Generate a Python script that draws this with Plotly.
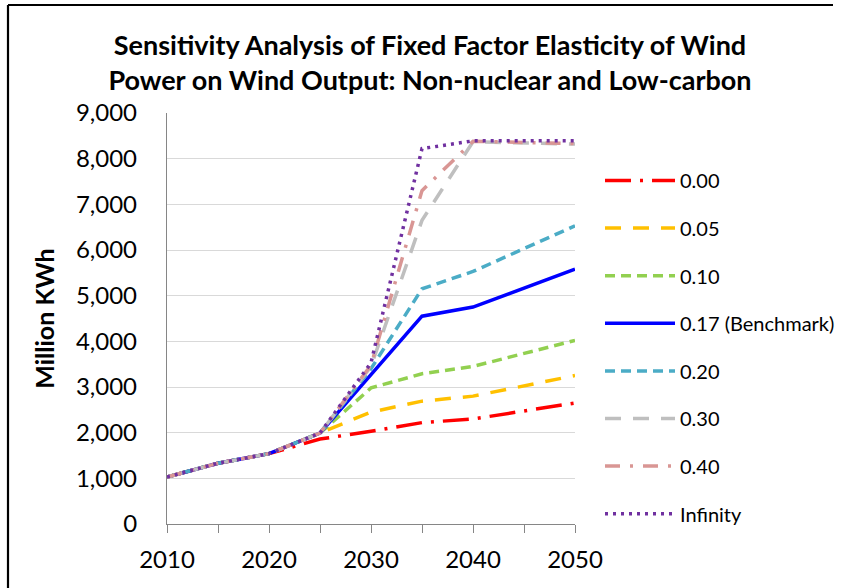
import plotly.graph_objects as go

# Projection years and wind output (million kWh) for each fixed-factor elasticity
years = [2010, 2015, 2020, 2025, 2030, 2035, 2040, 2050]

elasticity_labels = ["0.00", "0.05", "0.10", "0.17 (Benchmark)", "0.20", "0.30", "0.40", "Infinity"]

out_000 = [1030, 1330, 1540, 1860, 2030, 2220, 2300, 2650]
out_005 = [1030, 1330, 1540, 1990, 2450, 2690, 2800, 3250]
out_010 = [1030, 1330, 1540, 1990, 2980, 3290, 3450, 4020]
out_017 = [1030, 1330, 1540, 1990, 3270, 4550, 4750, 5580]
out_020 = [1030, 1330, 1540, 1990, 3400, 5150, 5530, 6530]
out_030 = [1030, 1330, 1540, 1990, 3450, 6650, 8370, 8320]
out_040 = [1030, 1330, 1540, 1990, 3480, 7300, 8380, 8330]
out_inf = [1030, 1330, 1540, 1990, 3530, 8220, 8390, 8390]

series = [out_000, out_005, out_010, out_017, out_020, out_030, out_040, out_inf]

colors = ["#FF0000", "#FFC000", "#92D050", "#0000FF", "#4BACC6", "#BFBFBF", "#D99694", "#7030A0"]
dashes = [
    "26px,9px,3px,9px",
    "16px,12px",
    "10px,6px",
    "solid",
    "10px,6px",
    "16px,12px",
    "15px,10px,3px,10px",
    "3px,5px",
]

FONT = "Lato"

fig = go.Figure()
for i, (name, vals) in enumerate(zip(elasticity_labels, series)):
    fig.add_trace(go.Scatter(
        x=years, y=vals, mode="lines", name=name,
        legendgroup=f"g{i}",
        line=dict(color=colors[i], width=3.5, dash=dashes[i]),
    ))

# Axis positions in pixels (used for the frame lines around the chart)
L, R, T, B = 167, 575, 113, 524
W, H = 841, 588
pw, ph = R - L, B - T

def px_x(p):
    return (p - L) / pw

def px_y(p):
    return (B - p) / ph

fig.update_layout(
    width=W, height=H,
    margin=dict(l=L, r=W - R, t=T, b=H - B, pad=0, autoexpand=False),
    paper_bgcolor="white", plot_bgcolor="white",
    font=dict(family=FONT, color="black"),
    title=dict(
        text="Sensitivity Analysis of Fixed Factor Elasticity of Wind<br>Power on Wind Output: Non-nuclear and Low-carbon",
        x=430 / W, xanchor="center", y=1 - 55 / H, yanchor="top",
        font=dict(family=FONT, size=27, color="black", weight="bold"),
    ),
    showlegend=True,
    legend=dict(
        x=px_x(600), xanchor="left", y=px_y(161), yanchor="top",
        font=dict(family=FONT, size=20, color="black"),
        itemwidth=70, tracegroupgap=18.6, bgcolor="rgba(0,0,0,0)",
    ),
    xaxis=dict(
        range=[2010, 2050], dtick=10, tick0=2010,
        showgrid=False, zeroline=False,
        showline=True, linecolor="#868686", linewidth=1.3,
        ticks="outside", ticklen=8, tickcolor="#868686", tickwidth=1.3,
        minor=dict(dtick=5, ticks="outside", ticklen=8, tickcolor="#868686", tickwidth=1.3, showgrid=False),
        tickfont=dict(family=FONT, size=24, color="black"),
        ticklabelstandoff=6,
    ),
    yaxis=dict(
        range=[0, 9000], dtick=1000, tickformat=",d",
        showgrid=True, gridcolor="#D9D9D9", gridwidth=1.3,
        zeroline=False,
        showline=True, linecolor="#868686", linewidth=1.3,
        ticks="", tickfont=dict(family=FONT, size=24, color="black"),
        ticklabelstandoff=24,
        title=dict(text="<b>Million KWh</b>", font=dict(family=FONT, size=25, color="black"), standoff=14),
    ),
    shapes=[
        dict(type="line", xref="paper", yref="paper",
             x0=px_x(8), x1=px_x(833), y0=px_y(5), y1=px_y(5),
             line=dict(color="black", width=2.2)),
        dict(type="line", xref="paper", yref="paper",
             x0=px_x(8), x1=px_x(8), y0=px_y(5), y1=px_y(H + 5),
             line=dict(color="black", width=2.2)),
    ],
)

fig.write_html("out.html")
